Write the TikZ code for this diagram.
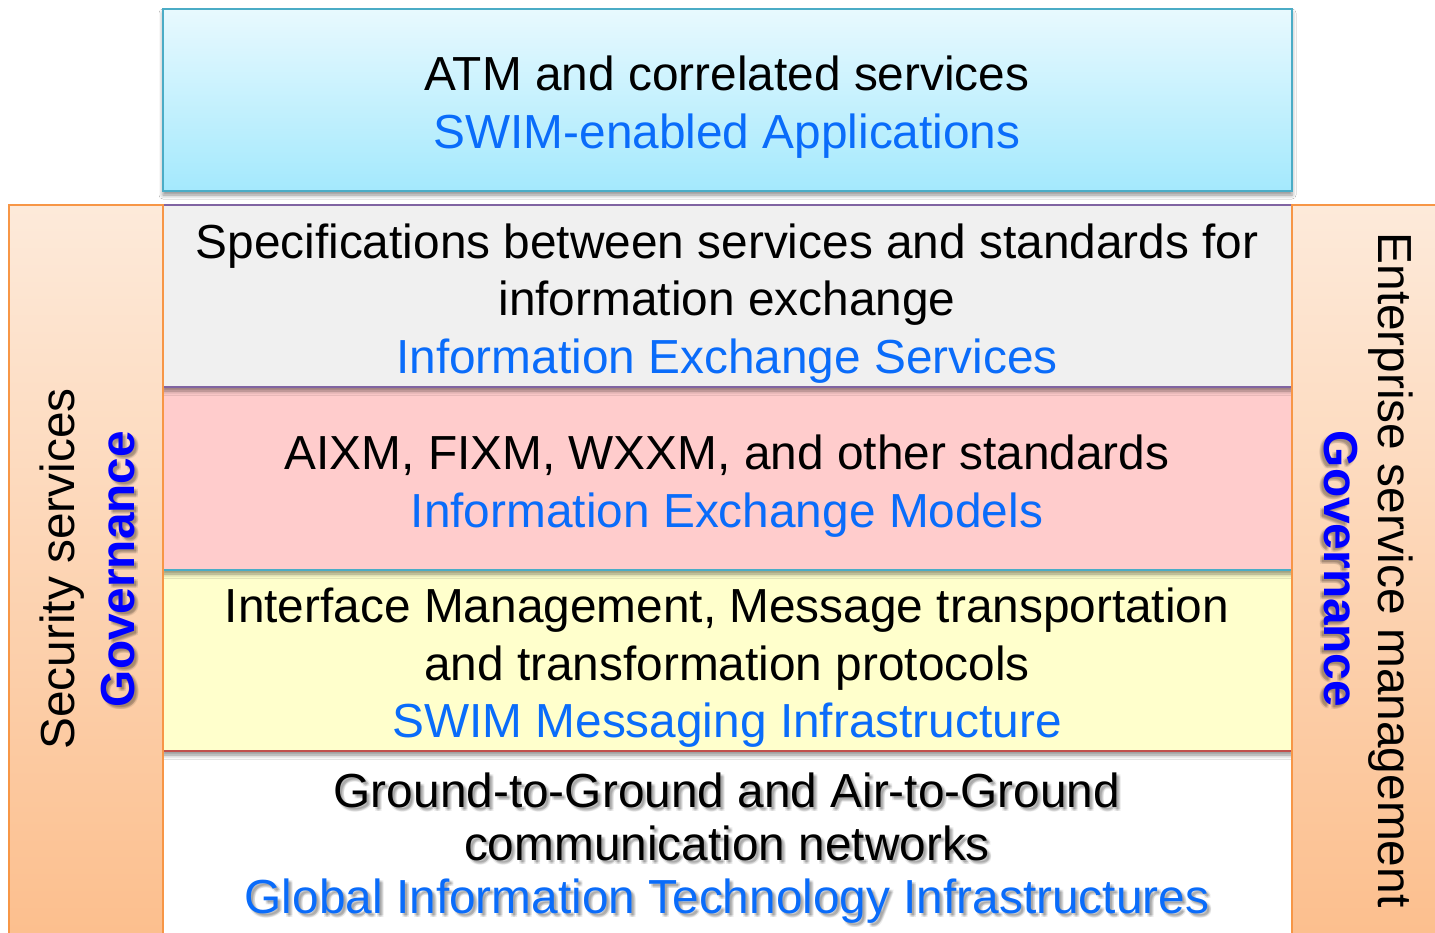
\documentclass[tikz,border=0pt]{standalone}
\usepackage{fontspec}
\setmainfont{Liberation Sans}
\usetikzlibrary{shadows.blur}
\definecolor{bluetext}{RGB}{10,108,250}
\definecolor{govblue}{RGB}{0,0,255}
\definecolor{purp}{RGB}{128,100,162}
\definecolor{cyanb}{RGB}{75,172,198}
\definecolor{redb}{RGB}{192,80,77}
\definecolor{orb}{RGB}{247,150,70}
\definecolor{pinkf}{RGB}{255,204,204}
\definecolor{yelf}{RGB}{255,255,204}
\definecolor{grayf}{RGB}{240,240,240}
\definecolor{cyantop}{RGB}{232,249,254}
\definecolor{cyanbot}{RGB}{164,233,253}
\definecolor{ortop}{RGB}{253,234,218}
\definecolor{orbot}{RGB}{252,190,140}
\newcommand\shadowtext[6]{%
  \foreach \dx/\dy/\k in {2/2/a,3/3/b,4/4/c,2/4/d,4/2/e}
    \node[#4, opacity=0.08, text=black] (#1\k) at (#2+#6*\dx, #3+\dy) {#5};
  \node[#4] (#1) at (#2,#3) {#5};}
\begin{document}
\begin{tikzpicture}[x=1pt,y=-1pt,
  line/.style={anchor=base, font=\fontsize{47.8}{57}\selectfont, inner sep=0pt},
  blk/.style={line, text=black},
  blu/.style={line, text=bluetext},
  gov/.style={line, font=\fontsize{47.8}{57}\selectfont\bfseries, text=govblue},
  layer/.style={line width=1.5pt, blur shadow={shadow xshift=0pt, shadow yshift=-4pt, shadow blur radius=4pt, shadow opacity=45}},
  bar/.style={draw=orb, line width=1.5pt, top color=ortop, bottom color=orbot},
]
\useasboundingbox (0,0) rectangle (1435,932);
\clip (0,0) rectangle (1435,932);
\fill[white] (0,0) rectangle (1435,932);

% layers (bottom first so upper shadows fall on lower)
\path[fill=white] (163,751) rectangle (1292,945);
\path[layer, fill=yelf, draw=redb] (163,570) rectangle (1292,751);
\path[layer, fill=pinkf, draw=cyanb] (163,387) rectangle (1292,570);
\path[layer, fill=grayf, draw=purp] (163,205) rectangle (1292,387);
\path[layer, draw=cyanb, top color=cyantop, bottom color=cyanbot] (163,9) rectangle (1292,191);

% side bars
\path[bar] (9,205) rectangle (163,950);
\path[bar] (1292,205) rectangle (1445,950);

% top box text
\node[blk] (t1) at (727,90) {ATM and correlated services};
\node[blu] (t2) at (727,148) {SWIM-enabled Applications};

% gray box text
\node[blk] (g1) at (727,258) {Specifications between services and standards for};
\node[blk] (g2) at (727,315) {information exchange};
\node[blu] (g3) at (727,373) {Information Exchange Services};

% pink box text
\node[blk] (p1) at (727,469) {AIXM, FIXM, WXXM, and other standards};
\node[blu] (p2) at (727,527) {Information Exchange Models};

% yellow box text
\node[blk] (y1) at (727,622) {Interface Management, Message transportation};
\node[blk] (y2) at (727,680) {and transformation protocols};
\node[blu] (y3) at (727,737) {SWIM Messaging Infrastructure};

% white box text (with shadow)
\shadowtext{w1}{727}{807}{blk}{Ground-to-Ground and Air-to-Ground}{1}
\shadowtext{w2}{727}{860}{blk}{communication networks}{1}
\shadowtext{w3}{727}{913}{blu}{Global Information Technology Infrastructures}{1}

% left bar
\node[blk, rotate=90] (sec) at (74,569) {Security services};
\shadowtext{govl}{134}{569}{gov, rotate=90}{Governance}{1}

% right bar
\node[blk, rotate=-90] (ent) at (1378,570) {Enterprise service management};
\shadowtext{govr}{1324}{569}{gov, rotate=-90}{Governance}{-1}
\end{tikzpicture}
\end{document}
